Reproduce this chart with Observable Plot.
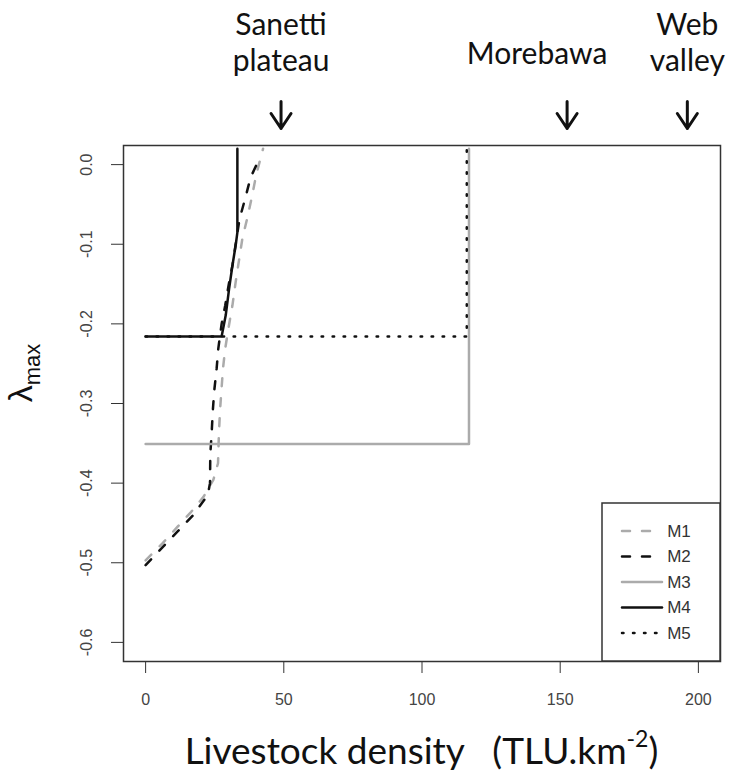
<!DOCTYPE html>
<html>
<head>
<meta charset="utf-8">
<script src="https://cdn.jsdelivr.net/npm/d3@7"></script>
<script src="https://cdn.jsdelivr.net/npm/@observablehq/plot@0.6"></script>
<style>
  body { margin: 0; background: #fff; }
  #chart svg { display: block; }
</style>
</head>
<body>
<div id="chart"></div>
<script>
// Axis ticks
const xTicks = [0, 50, 100, 150, 200];
const yTicks = [0, -0.1, -0.2, -0.3, -0.4, -0.5, -0.6];

// Maximum growth rate (lambda max) against livestock density, per model
const m1Density = [0, 6, 11.5, 16.5, 21, 24.5, 26.2, 26.5, 26.9, 27.4, 28, 28.8, 30, 31.4, 32.6, 33.8, 35, 37, 38.6, 40, 42.5];
const m1Lambda  = [-0.497, -0.476, -0.455, -0.436, -0.417, -0.396, -0.375, -0.34, -0.31, -0.285, -0.256, -0.231, -0.205, -0.177, -0.147, -0.12, -0.093, -0.064, -0.038, -0.013, 0.02];

const m2Density = [0, 6, 11.5, 17, 22.5, 23.3, 23.4, 23.9, 24.3, 24.8, 25.7, 26.3, 27.5, 28.8, 30, 31.5, 32.8, 34, 36, 38, 41.5];
const m2Lambda  = [-0.503, -0.481, -0.461, -0.441, -0.415, -0.4, -0.364, -0.337, -0.31, -0.285, -0.256, -0.231, -0.2, -0.177, -0.152, -0.125, -0.095, -0.068, -0.043, -0.016, 0.01];

const m3Density = [0, 117, 117];
const m3Lambda  = [-0.351, -0.351, 0.02];

const m4Density = [0, 27.5, 29, 30.2, 31.4, 32.6, 33.2, 33.2];
const m4Lambda  = [-0.216, -0.216, -0.189, -0.156, -0.127, -0.101, -0.085, 0.02];

const m5Density = [0, 116.2, 116.2];
const m5Lambda  = [-0.216, -0.216, 0.02];

const models = ["M1", "M2", "M3", "M4", "M5"];
const densities = [m1Density, m2Density, m3Density, m4Density, m5Density];
const lambdas = [m1Lambda, m2Lambda, m3Lambda, m4Lambda, m5Lambda];

// Study sites and their livestock densities
const sites = ["Sanetti\nplateau", "Morebawa", "Web\nvalley"];
const siteDensity = [49, 152.5, 196];

// Line styles per model
const GREY = "#ababab", INK = "#111";
const modelStyle = {
  M1: { stroke: GREY, dash: "8,12" },
  M2: { stroke: INK, dash: "8,12" },
  M3: { stroke: GREY, dash: null },
  M4: { stroke: INK, dash: null },
  M5: { stroke: INK, dash: "1.5,9.5" }
};

const rows = models.map((m, k) => densities[k].map((x, i) => ({ model: m, density: x, lambda: lambdas[k][i] })));
const siteRows = sites.map((name, i) => ({ name, density: siteDensity[i] }));

// Downward arrow drawn from the vector's base to its tip
const downArrow = {
  draw(context, l) {
    context.moveTo(0, 0);
    context.lineTo(0, -l);
    context.moveTo(-10, -l + 15);
    context.lineTo(0, -l);
    context.lineTo(10, -l + 15);
  }
};

const calibriLike = "Lato, 'Open Sans', sans-serif";
const arialLike = "'Liberation Sans', Arial, sans-serif";

const plot = Plot.plot({
  width: 733,
  height: 776,
  marginLeft: 123,
  marginRight: 13,
  marginTop: 145,
  marginBottom: 115,
  style: { background: "#fff", fontFamily: arialLike, fontSize: "16px", color: "#333" },
  x: { domain: [-8, 208] },
  y: { domain: [-0.624, 0.024] },
  marks: [
    Plot.axisX(xTicks, { tickSize: 12, tickPadding: 20, label: null, stroke: "#333", fill: "#444", fontSize: 16 }),
    Plot.axisY(yTicks, { tickSize: 12, tickPadding: 20, tickRotate: -90, label: null, stroke: "#333", fill: "#444", fontSize: 16, tickFormat: d => d.toFixed(1) }),
    ...models.map((m, k) => Plot.line(rows[k], {
      x: "density", y: "lambda",
      stroke: modelStyle[m].stroke,
      strokeWidth: 2.5,
      strokeDasharray: modelStyle[m].dash
    })),
    Plot.frame({ stroke: "#333", strokeWidth: 1.5 }),
    // Site names above the plot
    Plot.text(siteRows.filter(d => d.name.includes("\n")), {
      x: "density", text: "name", frameAnchor: "top", lineAnchor: "bottom",
      dy: -75, fontSize: 30, lineHeight: 1.2, fontFamily: calibriLike, fill: "#111"
    }),
    Plot.text(siteRows.filter(d => !d.name.includes("\n")), {
      x: "density", text: "name", frameAnchor: "top", lineAnchor: "bottom",
      dx: -30, dy: -82, fontSize: 30, fontFamily: calibriLike, fill: "#111"
    }),
    Plot.vector(siteRows, {
      x: "density", frameAnchor: "top", dy: -17, length: 27, rotate: 180,
      anchor: "end", shape: downArrow, stroke: "#111", strokeWidth: 3
    })
  ]
});

document.getElementById("chart").appendChild(plot);

// Axis titles and legend, placed relative to the plot frame
const svg = d3.select(plot);
const [fx0, fx1] = plot.scale("x").range;
const [fy1, fy0] = plot.scale("y").range;

// y-axis title: lambda with subscript "max"
const yTitle = svg.append("text")
  .attr("transform", `translate(32,${(fy0 + fy1) / 2 - 30}) rotate(-90)`)
  .attr("text-anchor", "middle")
  .attr("font-family", arialLike)
  .attr("fill", "#111");
yTitle.append("tspan").attr("font-size", 34).text("λ");
yTitle.append("tspan").attr("font-size", 22).attr("dy", "0.35em").text("max");

// x-axis title with superscript unit
const xTitle = svg.append("text")
  .attr("x", (fx0 + fx1) / 2)
  .attr("y", 764)
  .attr("text-anchor", "middle")
  .attr("font-family", calibriLike)
  .attr("font-size", 37)
  .attr("fill", "#111")
  .style("white-space", "pre");
xTitle.append("tspan").text("Livestock density   (TLU.km");
xTitle.append("tspan").attr("font-size", 23).attr("dy", "-0.75em").text("-2");
xTitle.append("tspan").attr("dy", "0.47em").text(")");

// Legend in the bottom-right corner of the frame
const legW = 118, legH = 158;
const legend = svg.append("g").attr("transform", `translate(${fx1 - legW},${fy1 - legH})`);
legend.append("rect")
  .attr("width", legW).attr("height", legH)
  .attr("fill", "#fff").attr("stroke", "#333").attr("stroke-width", 1.5);
models.forEach((m, i) => {
  const y = 28 + i * 25.5;
  legend.append("line")
    .attr("x1", 20).attr("x2", 60).attr("y1", y).attr("y2", y)
    .attr("stroke", modelStyle[m].stroke).attr("stroke-width", 2.5)
    .attr("stroke-linecap", "round")
    .attr("stroke-dasharray", modelStyle[m].dash);
  legend.append("text")
    .attr("x", 77).attr("y", y).attr("dy", "0.35em")
    .attr("font-family", arialLike).attr("font-size", 17).attr("fill", "#333")
    .text(m);
});
</script>
</body>
</html>
